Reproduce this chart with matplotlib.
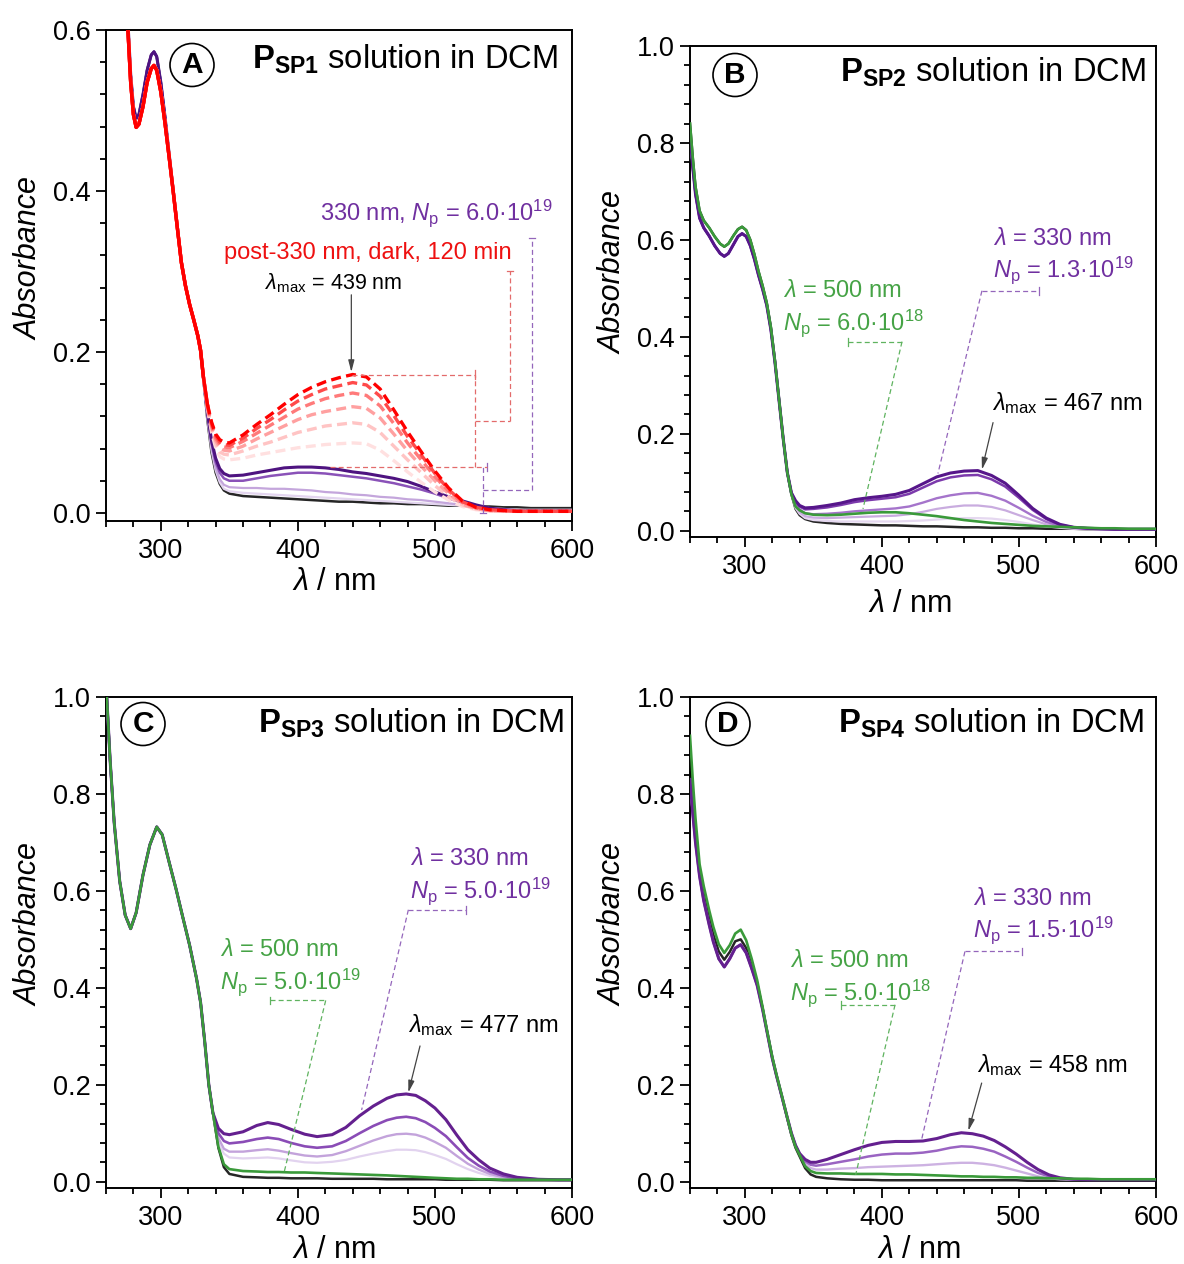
import matplotlib
matplotlib.use("Agg")
import matplotlib.pyplot as plt
from matplotlib.ticker import MultipleLocator, FormatStrFormatter
from matplotlib.patches import Ellipse

plt.rcParams['font.family'] = ['Liberation Sans', 'DejaVu Sans']
plt.rcParams['mathtext.fontset'] = 'custom'
plt.rcParams['mathtext.rm'] = 'Liberation Sans'
plt.rcParams['mathtext.it'] = 'Liberation Sans:italic'
plt.rcParams['mathtext.bf'] = 'Liberation Sans:bold'

# ---------------- data: panel A ----------------
A_wl_uv = [260, 266, 272, 276, 278, 280, 282, 284, 287, 290, 293, 295, 297, 300, 303, 306, 309, 312, 315, 318, 321, 324, 327, 329, 331]
A_uv_black = [1.20, 0.95, 0.73, 0.61, 0.545, 0.505, 0.490, 0.495, 0.520, 0.550, 0.569, 0.573, 0.567, 0.535, 0.493, 0.447, 0.402, 0.356, 0.312, 0.282, 0.259, 0.240, 0.220, 0.202, 0.168]
A_uv_red = [1.20, 0.95, 0.73, 0.60, 0.535, 0.495, 0.479, 0.483, 0.505, 0.535, 0.552, 0.556, 0.550, 0.523, 0.485, 0.443, 0.400, 0.355, 0.311, 0.282, 0.259, 0.240, 0.220, 0.202, 0.170]
A_wl = [334, 337, 340, 343, 346, 350, 360, 370, 380, 390, 400, 410, 420, 430, 440, 450, 460, 470, 480, 490, 500, 510, 520, 530, 540, 550, 560, 570, 580, 590, 600]
A_black = [0.115, 0.075, 0.050, 0.036, 0.028, 0.024, 0.021, 0.020, 0.019, 0.018, 0.017, 0.016, 0.015, 0.014, 0.014, 0.013, 0.012, 0.012, 0.011, 0.011, 0.010, 0.009, 0.009, 0.008, 0.008, 0.007, 0.007, 0.006, 0.006, 0.006, 0.006]
A_p1 = [0.117, 0.078, 0.053, 0.038, 0.030, 0.027, 0.025, 0.024, 0.023, 0.022, 0.021, 0.020, 0.019, 0.018, 0.017, 0.016, 0.015, 0.014, 0.013, 0.012, 0.011, 0.010, 0.009, 0.008, 0.006, 0.005, 0.004, 0.004, 0.004, 0.004, 0.004]
A_p2 = [0.120, 0.082, 0.056, 0.042, 0.035, 0.032, 0.031, 0.031, 0.030, 0.030, 0.029, 0.028, 0.026, 0.025, 0.023, 0.022, 0.020, 0.019, 0.017, 0.016, 0.014, 0.012, 0.010, 0.008, 0.006, 0.004, 0.003, 0.003, 0.003, 0.003, 0.003]
A_p3 = [0.123, 0.087, 0.063, 0.050, 0.043, 0.040, 0.040, 0.043, 0.046, 0.048, 0.050, 0.050, 0.049, 0.047, 0.045, 0.043, 0.040, 0.037, 0.033, 0.029, 0.024, 0.018, 0.013, 0.009, 0.006, 0.004, 0.003, 0.003, 0.003, 0.003, 0.003]
A_p4 = [0.125, 0.090, 0.068, 0.055, 0.049, 0.046, 0.047, 0.050, 0.053, 0.056, 0.057, 0.057, 0.056, 0.054, 0.051, 0.049, 0.046, 0.043, 0.039, 0.033, 0.026, 0.020, 0.015, 0.010, 0.006, 0.004, 0.003, 0.003, 0.003, 0.003, 0.003]
A_r1 = [0.130, 0.100, 0.081, 0.070, 0.067, 0.066, 0.068, 0.072, 0.075, 0.078, 0.081, 0.083, 0.085, 0.086, 0.087, 0.086, 0.078, 0.065, 0.051, 0.038, 0.026, 0.016, 0.008, 0.004, 0.002, 0.002, 0.002, 0.002, 0.002, 0.002, 0.002]
A_r2 = [0.131, 0.104, 0.086, 0.076, 0.073, 0.072, 0.077, 0.083, 0.088, 0.094, 0.100, 0.104, 0.108, 0.110, 0.112, 0.110, 0.100, 0.083, 0.066, 0.050, 0.034, 0.020, 0.010, 0.005, 0.003, 0.002, 0.002, 0.002, 0.002, 0.002, 0.002]
A_r3 = [0.132, 0.107, 0.090, 0.081, 0.078, 0.077, 0.083, 0.092, 0.100, 0.108, 0.116, 0.122, 0.126, 0.129, 0.132, 0.130, 0.118, 0.098, 0.077, 0.058, 0.040, 0.024, 0.011, 0.005, 0.003, 0.002, 0.002, 0.002, 0.002, 0.002, 0.002]
A_r4 = [0.133, 0.109, 0.093, 0.085, 0.082, 0.081, 0.089, 0.099, 0.109, 0.119, 0.129, 0.136, 0.142, 0.146, 0.149, 0.146, 0.133, 0.111, 0.087, 0.066, 0.045, 0.027, 0.013, 0.006, 0.003, 0.003, 0.002, 0.002, 0.002, 0.002, 0.002]
A_r5 = [0.134, 0.111, 0.096, 0.088, 0.085, 0.084, 0.093, 0.105, 0.116, 0.128, 0.139, 0.147, 0.154, 0.158, 0.162, 0.159, 0.145, 0.121, 0.095, 0.072, 0.049, 0.029, 0.014, 0.007, 0.004, 0.003, 0.002, 0.002, 0.002, 0.002, 0.002]
A_r6 = [0.135, 0.113, 0.098, 0.091, 0.088, 0.087, 0.097, 0.110, 0.122, 0.135, 0.147, 0.156, 0.163, 0.168, 0.172, 0.169, 0.154, 0.128, 0.101, 0.076, 0.052, 0.031, 0.015, 0.007, 0.004, 0.003, 0.002, 0.002, 0.002, 0.002, 0.002]

# ---------------- data: panel B ----------------
B_wl_uv = [260, 262, 264, 267, 270, 274, 278, 282, 285, 288, 292, 295, 298, 301, 304, 307, 310, 313, 316, 319, 322, 325, 328, 331, 334]
B_uv_g = [0.84, 0.77, 0.71, 0.66, 0.64, 0.625, 0.607, 0.592, 0.586, 0.592, 0.610, 0.622, 0.627, 0.620, 0.600, 0.570, 0.535, 0.505, 0.470, 0.420, 0.350, 0.270, 0.190, 0.120, 0.075]
B_uv_p = [0.82, 0.75, 0.695, 0.645, 0.625, 0.608, 0.588, 0.572, 0.566, 0.572, 0.592, 0.607, 0.613, 0.607, 0.588, 0.560, 0.527, 0.498, 0.465, 0.415, 0.347, 0.268, 0.190, 0.120, 0.078]
B_wl = [337, 340, 344, 350, 360, 370, 380, 390, 400, 410, 420, 430, 440, 450, 460, 470, 480, 490, 500, 510, 520, 530, 540, 550, 560, 570, 580, 590, 600]
B_black = [0.045, 0.032, 0.024, 0.019, 0.016, 0.014, 0.013, 0.012, 0.011, 0.011, 0.010, 0.009, 0.009, 0.008, 0.007, 0.007, 0.006, 0.006, 0.005, 0.005, 0.004, 0.004, 0.004, 0.003, 0.003, 0.003, 0.003, 0.003, 0.003]
B_green = [0.050, 0.042, 0.036, 0.033, 0.032, 0.033, 0.035, 0.037, 0.038, 0.038, 0.036, 0.033, 0.030, 0.026, 0.022, 0.019, 0.016, 0.014, 0.012, 0.010, 0.009, 0.008, 0.007, 0.006, 0.005, 0.005, 0.004, 0.004, 0.004]
B_p1 = [0.047, 0.035, 0.026, 0.022, 0.020, 0.019, 0.019, 0.019, 0.019, 0.019, 0.020, 0.021, 0.023, 0.025, 0.026, 0.026, 0.025, 0.022, 0.018, 0.013, 0.009, 0.006, 0.004, 0.003, 0.003, 0.003, 0.003, 0.003, 0.003]
B_p2 = [0.050, 0.038, 0.030, 0.027, 0.026, 0.027, 0.028, 0.029, 0.030, 0.031, 0.034, 0.039, 0.045, 0.049, 0.052, 0.052, 0.049, 0.042, 0.032, 0.022, 0.013, 0.008, 0.005, 0.004, 0.003, 0.003, 0.003, 0.003, 0.003]
B_p3 = [0.055, 0.044, 0.036, 0.034, 0.035, 0.037, 0.040, 0.042, 0.044, 0.046, 0.050, 0.058, 0.067, 0.073, 0.077, 0.078, 0.072, 0.062, 0.047, 0.031, 0.018, 0.010, 0.006, 0.004, 0.003, 0.003, 0.003, 0.003, 0.003]
B_p4 = [0.060, 0.050, 0.044, 0.045, 0.048, 0.053, 0.059, 0.063, 0.066, 0.069, 0.076, 0.089, 0.102, 0.110, 0.114, 0.115, 0.106, 0.091, 0.068, 0.043, 0.024, 0.012, 0.007, 0.005, 0.004, 0.003, 0.003, 0.003, 0.003]
B_p5 = [0.062, 0.052, 0.047, 0.048, 0.052, 0.057, 0.064, 0.068, 0.071, 0.075, 0.083, 0.097, 0.111, 0.119, 0.123, 0.124, 0.114, 0.098, 0.073, 0.046, 0.026, 0.013, 0.007, 0.005, 0.004, 0.003, 0.003, 0.003, 0.003]

# ---------------- data: panel C ----------------
C_wl_uv = [260, 263, 266, 270, 274, 278, 282, 287, 292, 297, 301, 306, 311, 316, 321, 326, 329, 332, 335, 338]
C_uv = [1.03, 0.87, 0.74, 0.62, 0.55, 0.522, 0.555, 0.633, 0.695, 0.732, 0.716, 0.660, 0.605, 0.546, 0.488, 0.420, 0.370, 0.290, 0.200, 0.142]
C_wl = [342, 346, 350, 360, 370, 378, 386, 395, 405, 414, 425, 435, 445, 455, 465, 472, 479, 486, 493, 500, 508, 516, 524, 532, 540, 550, 560, 575, 590, 600]
C_black = [0.070, 0.030, 0.016, 0.010, 0.009, 0.008, 0.008, 0.007, 0.007, 0.007, 0.006, 0.006, 0.006, 0.006, 0.005, 0.005, 0.005, 0.005, 0.005, 0.005, 0.004, 0.004, 0.004, 0.004, 0.004, 0.003, 0.003, 0.003, 0.003, 0.003]
C_green = [0.072, 0.036, 0.026, 0.022, 0.021, 0.020, 0.020, 0.019, 0.019, 0.018, 0.017, 0.016, 0.015, 0.014, 0.013, 0.012, 0.011, 0.010, 0.009, 0.008, 0.007, 0.006, 0.006, 0.005, 0.005, 0.004, 0.004, 0.004, 0.004, 0.004]
C_p1 = [0.080, 0.058, 0.050, 0.048, 0.049, 0.050, 0.048, 0.044, 0.040, 0.039, 0.041, 0.045, 0.052, 0.058, 0.063, 0.066, 0.066, 0.065, 0.061, 0.055, 0.047, 0.036, 0.026, 0.018, 0.012, 0.007, 0.005, 0.004, 0.004, 0.004]
C_p2 = [0.090, 0.068, 0.062, 0.062, 0.065, 0.067, 0.064, 0.059, 0.054, 0.052, 0.055, 0.063, 0.074, 0.085, 0.094, 0.098, 0.099, 0.097, 0.091, 0.082, 0.070, 0.053, 0.037, 0.025, 0.016, 0.009, 0.006, 0.004, 0.004, 0.004]
C_p3 = [0.100, 0.084, 0.079, 0.082, 0.088, 0.091, 0.088, 0.080, 0.073, 0.070, 0.073, 0.084, 0.100, 0.115, 0.127, 0.132, 0.134, 0.131, 0.123, 0.111, 0.094, 0.071, 0.049, 0.033, 0.021, 0.012, 0.007, 0.005, 0.004, 0.004]
C_p4 = [0.110, 0.099, 0.097, 0.103, 0.116, 0.122, 0.118, 0.108, 0.098, 0.093, 0.097, 0.112, 0.136, 0.156, 0.172, 0.179, 0.181, 0.178, 0.167, 0.152, 0.128, 0.096, 0.066, 0.045, 0.028, 0.016, 0.009, 0.005, 0.004, 0.004]

# ---------------- data: panel D ----------------
D_wl_uv = [260, 262, 264, 267, 270, 274, 277, 281, 285, 289, 293, 297, 301, 305, 309, 313, 316, 320, 323, 327, 331, 334, 337, 340]
D_uv_g = [0.92, 0.83, 0.75, 0.655, 0.61, 0.56, 0.526, 0.49, 0.472, 0.488, 0.512, 0.52, 0.498, 0.46, 0.416, 0.36, 0.315, 0.258, 0.222, 0.178, 0.132, 0.098, 0.072, 0.055]
D_uv_k = [0.87, 0.79, 0.72, 0.64, 0.595, 0.545, 0.51, 0.475, 0.458, 0.474, 0.496, 0.50, 0.482, 0.447, 0.41, 0.357, 0.313, 0.256, 0.22, 0.176, 0.13, 0.096, 0.07, 0.052]
D_uv_p = [0.83, 0.76, 0.70, 0.63, 0.58, 0.53, 0.495, 0.46, 0.443, 0.46, 0.482, 0.489, 0.472, 0.44, 0.405, 0.355, 0.312, 0.255, 0.22, 0.176, 0.132, 0.10, 0.075, 0.058]
D_wl = [344, 348, 352, 360, 370, 380, 390, 400, 410, 420, 430, 440, 450, 458, 466, 474, 482, 490, 498, 506, 514, 522, 530, 540, 550, 560, 575, 590, 600]
D_black = [0.028, 0.015, 0.010, 0.007, 0.005, 0.004, 0.004, 0.003, 0.003, 0.003, 0.003, 0.003, 0.003, 0.003, 0.003, 0.003, 0.003, 0.003, 0.003, 0.002, 0.002, 0.002, 0.002, 0.002, 0.002, 0.002, 0.002, 0.002, 0.002]
D_green = [0.032, 0.022, 0.018, 0.017, 0.017, 0.016, 0.016, 0.016, 0.015, 0.015, 0.014, 0.013, 0.012, 0.011, 0.011, 0.010, 0.010, 0.009, 0.009, 0.008, 0.008, 0.007, 0.007, 0.006, 0.006, 0.005, 0.005, 0.005, 0.005]
D_p1 = [0.037, 0.028, 0.025, 0.025, 0.027, 0.028, 0.030, 0.031, 0.032, 0.033, 0.034, 0.036, 0.038, 0.039, 0.039, 0.037, 0.034, 0.029, 0.023, 0.017, 0.011, 0.007, 0.005, 0.004, 0.004, 0.004, 0.004, 0.004, 0.004]
D_p2 = [0.042, 0.035, 0.033, 0.036, 0.041, 0.046, 0.052, 0.056, 0.058, 0.058, 0.060, 0.064, 0.070, 0.073, 0.072, 0.068, 0.062, 0.052, 0.041, 0.029, 0.018, 0.011, 0.007, 0.005, 0.004, 0.004, 0.004, 0.004, 0.004]
D_p3 = [0.046, 0.040, 0.040, 0.046, 0.056, 0.066, 0.075, 0.081, 0.083, 0.083, 0.084, 0.089, 0.097, 0.101, 0.099, 0.094, 0.085, 0.072, 0.057, 0.040, 0.025, 0.014, 0.008, 0.005, 0.004, 0.004, 0.004, 0.004, 0.004]

x_ticks = [300, 400, 500, 600]
panel_letters = ['A', 'B', 'C', 'D']
panel_titles = [r'$\mathbf{P}_\mathbf{SP1}$ solution in DCM', r'$\mathbf{P}_\mathbf{SP2}$ solution in DCM',
                r'$\mathbf{P}_\mathbf{SP3}$ solution in DCM', r'$\mathbf{P}_\mathbf{SP4}$ solution in DCM']

# ---------------- styling ----------------
W, H = 1184, 1264
PURPLE_TXT = '#7030a0'
GREEN_TXT = '#46a346'
RED_TXT = '#ee1111'
BLACK = '#262626'
GREEN = '#3a9a3a'

fig = plt.figure(figsize=(W / 100, H / 100), dpi=100)

def px_axes(left, top, right, bottom):
    return fig.add_axes([left / W, 1 - bottom / H, (right - left) / W, (bottom - top) / H])

def ftxt(x, y, s, **kw):
    fig.text(x / W, 1 - y / H, s, **kw)

axA = px_axes(106, 30, 572, 521)
axB = px_axes(690, 46, 1156, 537)
axC = px_axes(106, 697, 572, 1188)
axD = px_axes(690, 697, 1156, 1188)

def style(ax, ylim, ymax_major):
    ax.set_xlim(260, 600)
    ax.set_ylim(*ylim)
    ax.set_xticks(x_ticks)
    ax.set_yticks([round(0.2 * i, 1) for i in range(int(round(ymax_major / 0.2)) + 1)])
    ax.xaxis.set_minor_locator(MultipleLocator(20))
    ax.yaxis.set_minor_locator(MultipleLocator(0.04))
    ax.yaxis.set_major_formatter(FormatStrFormatter('%.1f'))
    ax.tick_params(which='both', direction='out', top=False, right=False, width=1.3, labelsize=19.5, color='black')
    ax.tick_params(which='major', length=7)
    ax.tick_params(which='minor', length=4)
    ax.tick_params(axis='x', pad=5)
    ax.tick_params(axis='y', pad=4)
    for s in ax.spines.values():
        s.set_linewidth(1.4)

def curve(ax, wl_uv, uv, wl, vals, **kw):
    ax.plot(list(wl_uv) + list(wl), list(uv) + list(vals), solid_joinstyle='round', **kw)

def dline(ax, xs, ys, color):
    ax.plot(xs, ys, color=color, lw=0.9, ls=(0, (4, 2.5)), zorder=5)

def arrow(ax, start, end):
    ax.annotate('', xy=end, xytext=start,
                arrowprops=dict(arrowstyle='-|>,head_length=0.7,head_width=0.18', color='#444444', lw=0.9,
                                shrinkA=0, shrinkB=0), zorder=6)

# ---- Panel A ----
style(axA, (-0.01, 0.6), 0.6)
curve(axA, A_wl_uv, A_uv_black, A_wl, A_black, color=BLACK, lw=1.8, zorder=2)
for vals, c, lw in [(A_p1, '#e3d5ef', 1.6), (A_p2, '#c4a6dc', 1.6), (A_p3, '#8a52b8', 1.8), (A_p4, '#4e1380', 2.2)]:
    curve(axA, A_wl_uv, A_uv_black, A_wl, vals, color=c, lw=lw, zorder=3)
red_cols = ['#ffe0e0', '#ffc4c4', '#ffa0a0', '#ff7a7a', '#ff4a4a', '#ff0000']
for vals, c in zip([A_r1, A_r2, A_r3, A_r4, A_r5, A_r6], red_cols):
    # UV part appears solid (dense, noisy trace); visible band dashed
    axA.plot(A_wl_uv + A_wl[:1], A_uv_red + vals[:1], color=c, lw=2.4, zorder=4)
    axA.plot(A_wl, vals, color=c, lw=2.4, ls=(0, (3, 1.6)), zorder=4)
axA.plot(A_wl_uv, A_uv_red, color='#ff0000', lw=2.4, zorder=4.5)

RB = '#e36b6b'
PB = '#9466bb'
dline(axA, [439.5, 529.2], [0.172, 0.172], RB)
dline(axA, [423.4, 538.0], [0.057, 0.057], RB)
dline(axA, [529.2, 529.2], [0.057, 0.172], RB)
dline(axA, [529.2, 554.8], [0.1145, 0.1145], RB)
dline(axA, [554.8, 554.8], [0.1145, 0.300], RB)
axA.plot([552.3, 557.3], [0.300, 0.300], color=RB, lw=0.9)
axA.plot([529.2, 529.2], [0.167, 0.177], color=RB, lw=0.9)
dline(axA, [535.1, 535.1], [0.0, 0.057], PB)
axA.plot([532.6, 537.6], [0.0, 0.0], color=PB, lw=0.9)
axA.plot([538.0, 538.0], [0.052, 0.062], color=PB, lw=0.9)
dline(axA, [535.1, 570.8], [0.0285, 0.0285], PB)
dline(axA, [570.8, 570.8], [0.0285, 0.342], PB)
axA.plot([568.3, 573.3], [0.342, 0.342], color=PB, lw=0.9, clip_on=False)
arrow(axA, (439.0, 0.271), (439.0, 0.175))

ftxt(553, 220, r'330 nm, $N_\mathrm{p}$ = 6.0·10$^{19}$', ha='right', va='baseline', fontsize=17, color=PURPLE_TXT)
ftxt(512, 259, 'post-330 nm, dark, 120 min', ha='right', va='baseline', fontsize=17, color=RED_TXT)
ftxt(265, 289, r'$\lambda_\mathrm{max}$ = 439 nm', ha='left', va='baseline', fontsize=15.5, color='black')

# ---- Panel B ----
style(axB, (-0.013, 1.0), 1.0)
for vals, c, lw in [(B_p1, '#e5d8f0', 1.6), (B_p2, '#c9acdf', 1.6), (B_p3, '#a574cb', 1.7), (B_p4, '#7c3aac', 1.8), (B_p5, '#56168a', 2.2)]:
    curve(axB, B_wl_uv, B_uv_p, B_wl, vals, color=c, lw=lw, zorder=3)
curve(axB, B_wl_uv, B_uv_g, B_wl, B_black, color=BLACK, lw=1.8, zorder=2)
curve(axB, B_wl_uv, B_uv_g, B_wl, B_green, color=GREEN, lw=1.9, zorder=4)
GB = '#5fb35f'
dline(axB, [375.3, 414.7], [0.39, 0.39], GB)
axB.plot([375.3, 375.3], [0.382, 0.398], color=GB, lw=0.9)
dline(axB, [414.7, 386.2], [0.39, 0.045], GB)
dline(axB, [473.0, 514.6], [0.495, 0.495], PB)
axB.plot([514.6, 514.6], [0.487, 0.503], color=PB, lw=0.9)
dline(axB, [473.0, 440.9], [0.495, 0.118], PB)
arrow(axB, (481.1, 0.223), (473.0, 0.126))
ftxt(783, 297, r'$\lambda$ = 500 nm', ha='left', va='baseline', fontsize=17, color=GREEN_TXT)
ftxt(783, 330, r'$N_\mathrm{p}$ = 6.0·10$^{18}$', ha='left', va='baseline', fontsize=17, color=GREEN_TXT)
ftxt(993, 245, r'$\lambda$ = 330 nm', ha='left', va='baseline', fontsize=17, color=PURPLE_TXT)
ftxt(993, 277, r'$N_\mathrm{p}$ = 1.3·10$^{19}$', ha='left', va='baseline', fontsize=17, color=PURPLE_TXT)
ftxt(992, 410, r'$\lambda_\mathrm{max}$ = 467 nm', ha='left', va='baseline', fontsize=17, color='black')

# ---- Panel C ----
style(axC, (-0.013, 1.0), 1.0)
curve(axC, C_wl_uv, C_uv, C_wl, C_black, color=BLACK, lw=1.8, zorder=2)
for vals, c, lw in [(C_p1, '#e2d3ef', 1.6), (C_p2, '#c3a3db', 1.7), (C_p3, '#8a4cb6', 1.9), (C_p4, '#64208f', 2.2)]:
    curve(axC, C_wl_uv, C_uv, C_wl, vals, color=c, lw=lw, zorder=3)
curve(axC, C_wl_uv, C_uv, C_wl, C_green, color=GREEN, lw=1.9, zorder=4)
dline(axC, [480.6, 522.4], [0.561, 0.561], PB)
axC.plot([522.4, 522.4], [0.553, 0.569], color=PB, lw=0.9)
dline(axC, [480.6, 446.5], [0.561, 0.148], PB)
dline(axC, [379.7, 420.3], [0.374, 0.374], GB)
axC.plot([379.7, 379.7], [0.366, 0.382], color=GB, lw=0.9)
dline(axC, [420.3, 390.1], [0.374, 0.021], GB)
arrow(axC, (489.1, 0.280), (480.6, 0.184))
ftxt(410, 865, r'$\lambda$ = 330 nm', ha='left', va='baseline', fontsize=17, color=PURPLE_TXT)
ftxt(410, 898, r'$N_\mathrm{p}$ = 5.0·10$^{19}$', ha='left', va='baseline', fontsize=17, color=PURPLE_TXT)
ftxt(220, 956, r'$\lambda$ = 500 nm', ha='left', va='baseline', fontsize=17, color=GREEN_TXT)
ftxt(220, 989, r'$N_\mathrm{p}$ = 5.0·10$^{19}$', ha='left', va='baseline', fontsize=17, color=GREEN_TXT)
ftxt(408, 1032, r'$\lambda_\mathrm{max}$ = 477 nm', ha='left', va='baseline', fontsize=17, color='black')

# ---- Panel D ----
style(axD, (-0.013, 1.0), 1.0)
curve(axD, D_wl_uv, D_uv_k, D_wl, D_black, color=BLACK, lw=1.8, zorder=2)
for vals, c, lw in [(D_p1, '#cdb2e2', 1.7), (D_p2, '#9a64c2', 1.8), (D_p3, '#64208f', 2.2)]:
    curve(axD, D_wl_uv, D_uv_p, D_wl, vals, color=c, lw=lw, zorder=3)
curve(axD, D_wl_uv, D_uv_g, D_wl, D_green, color=GREEN, lw=1.9, zorder=4)
dline(axD, [460.6, 502.0], [0.475, 0.475], PB)
axD.plot([502.0, 502.0], [0.467, 0.483], color=PB, lw=0.9)
dline(axD, [460.6, 429.0], [0.475, 0.087], PB)
dline(axD, [370.0, 409.6], [0.365, 0.365], GB)
axD.plot([370.0, 370.0], [0.357, 0.373], color=GB, lw=0.9)
dline(axD, [409.6, 380.9], [0.365, 0.0144], GB)
arrow(axD, (472.8, 0.2035), (463.1, 0.105))
ftxt(973, 905, r'$\lambda$ = 330 nm', ha='left', va='baseline', fontsize=17, color=PURPLE_TXT)
ftxt(973, 937, r'$N_\mathrm{p}$ = 1.5·10$^{19}$', ha='left', va='baseline', fontsize=17, color=PURPLE_TXT)
ftxt(790, 967, r'$\lambda$ = 500 nm', ha='left', va='baseline', fontsize=17, color=GREEN_TXT)
ftxt(790, 1000, r'$N_\mathrm{p}$ = 5.0·10$^{18}$', ha='left', va='baseline', fontsize=17, color=GREEN_TXT)
ftxt(977, 1072, r'$\lambda_\mathrm{max}$ = 458 nm', ha='left', va='baseline', fontsize=17, color='black')

# ---- titles, circled letters, axis labels ----
title_pos = [(252, 69), (840, 82), (258, 733), (838, 733)]
circle_pos = [(192, 65), (735, 75), (143, 724), (728, 724)]
ylab_pos = [(30, 258), (614, 272), (30, 925), (614, 925)]
xlab_pos = [(334, 582), (910, 604), (334, 1250), (919, 1250)]
for i in range(4):
    tx, ty = title_pos[i]
    ftxt(tx, ty, panel_titles[i], ha='left', va='baseline', fontsize=23.6, color='black')
    cx, cy = circle_pos[i]
    fig.add_artist(Ellipse((cx / W, 1 - cy / H), 44 / W, 43 / H, transform=fig.transFigure,
                           fill=False, ec='black', lw=1.2))
    ftxt(cx, cy + 8, panel_letters[i], ha='center', va='baseline', fontsize=21.5, fontweight='bold')
    yx, yy = ylab_pos[i]
    ftxt(yx, yy, 'Absorbance', ha='center', va='center', rotation=90, fontsize=22, fontstyle='italic')
    xx, xy = xlab_pos[i]
    ftxt(xx, xy, r'$\lambda$ / nm', ha='center', va='center', fontsize=22)

fig.savefig('out.png', dpi=100)
